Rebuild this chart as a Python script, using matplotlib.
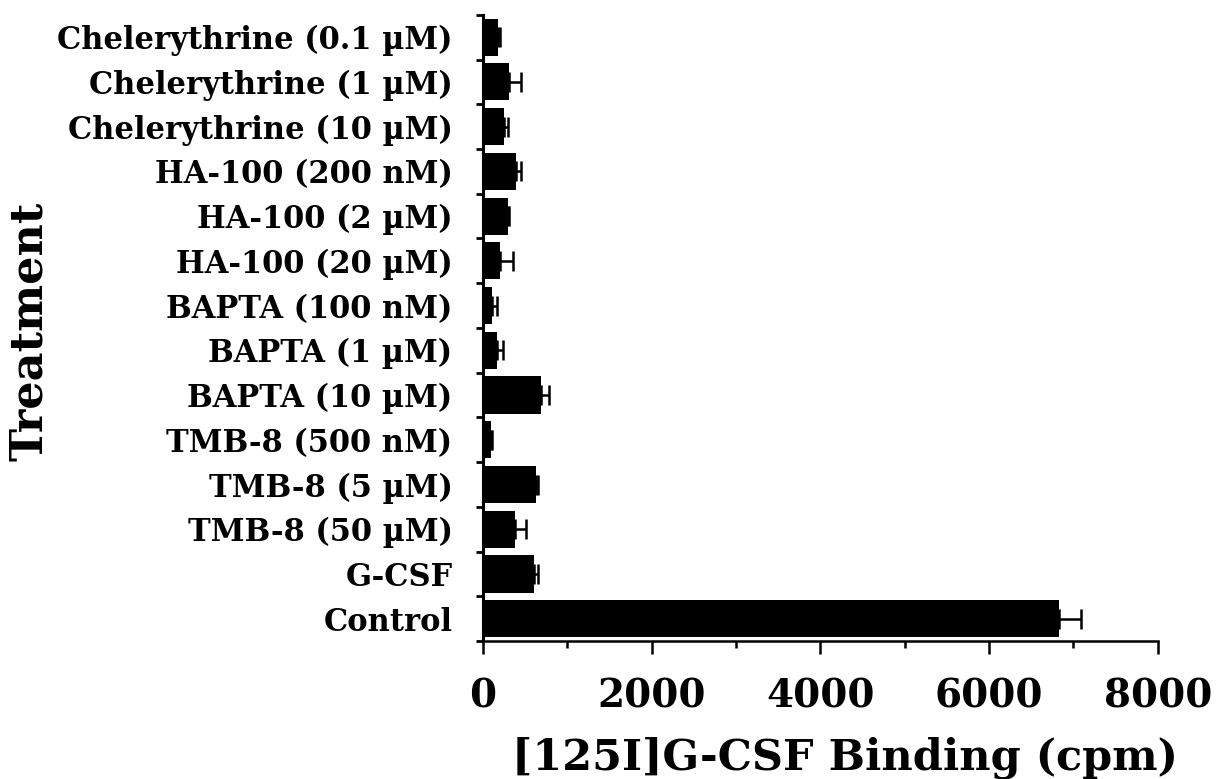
import numpy as np
import matplotlib
matplotlib.use("Agg")
import matplotlib.pyplot as plt
from matplotlib.ticker import MultipleLocator

# top to bottom as shown in the figure
treatments = [
    "Chelerythrine (0.1 µM)",
    "Chelerythrine (1 µM)",
    "Chelerythrine (10 µM)",
    "HA-100 (200 nM)",
    "HA-100 (2 µM)",
    "HA-100 (20 µM)",
    "BAPTA (100 nM)",
    "BAPTA (1 µM)",
    "BAPTA (10 µM)",
    "TMB-8 (500 nM)",
    "TMB-8 (5 µM)",
    "TMB-8 (50 µM)",
    "G-CSF",
    "Control",
]
binding = [180, 310, 250, 395, 300, 205, 110, 170, 690, 90, 625, 380, 605, 6825]
sem     = [15, 145, 50, 55, 10, 145, 60, 60, 90, 10, 20, 125, 48, 268]

FONT = "DejaVu Serif"

# reverse so the first treatment sits on top
labels = treatments[::-1]
vals = np.array(binding[::-1])
errs = np.array(sem[::-1])
ypos = np.arange(len(labels))

fig = plt.figure(figsize=(12.2, 7.79), dpi=100)
ax = fig.add_axes([0.396, 0.177, 0.553, 0.804])

ax.barh(ypos, vals, height=0.83, color="black", zorder=2)
ax.errorbar(vals, ypos, xerr=[np.zeros_like(errs), errs], fmt="none",
            ecolor="black", elinewidth=1.8, capsize=7, capthick=1.8, zorder=1)

ax.set_xlim(0, 8000)
ax.set_ylim(-0.5, len(labels) - 0.5)

ax.xaxis.set_major_locator(MultipleLocator(2000))
ax.xaxis.set_minor_locator(MultipleLocator(1000))
ax.set_yticks(ypos)
ax.set_yticklabels(labels, fontsize=22, fontweight="bold", fontfamily=FONT)
ax.set_yticks(np.arange(-0.5, len(labels), 1), minor=True)

for t in ax.get_xticklabels():
    t.set_fontfamily(FONT)
    t.set_fontweight("bold")
    t.set_fontsize(28)

ax.tick_params(axis="y", which="major", length=0, pad=22)
ax.tick_params(axis="y", which="minor", length=5, width=2, direction="out")
ax.tick_params(axis="x", which="major", length=9, width=1.8, direction="out", pad=17)
ax.tick_params(axis="x", which="minor", length=5, width=1.8, direction="out")

for s in ["top", "right"]:
    ax.spines[s].set_visible(False)
ax.spines["left"].set_linewidth(2.2)
ax.spines["bottom"].set_linewidth(1.8)

ax.set_xlabel("[125I]G-CSF Binding (cpm)", fontsize=31, fontweight="bold",
              fontfamily=FONT)
ax.xaxis.set_label_coords(0.536, -0.152, transform=ax.transAxes)
ax.set_ylabel("Treatment", fontsize=32, fontweight="bold", fontfamily=FONT)
ax.yaxis.set_label_coords(-0.64, 0.495, transform=ax.transAxes)

plt.savefig("out.png", dpi=100)
plt.close()
